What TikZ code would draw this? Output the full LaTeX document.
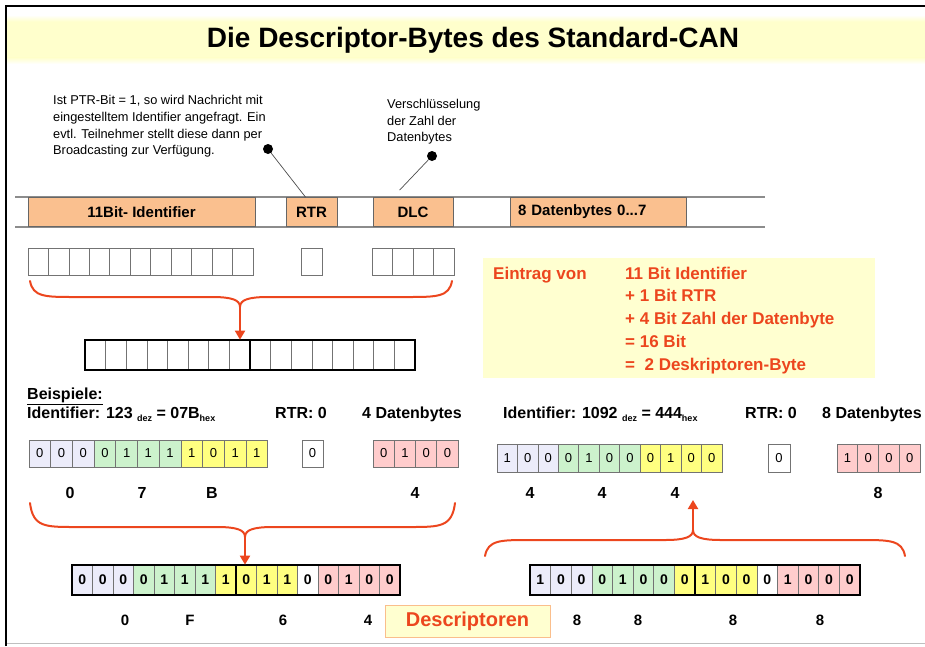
\documentclass[tikz,border=0pt]{standalone}
\usepackage{fontspec}
\setmainfont{Liberation Sans}
\usetikzlibrary{arrows.meta}

\definecolor{titleyel}{RGB}{255,255,204}
\definecolor{fieldorange}{RGB}{250,192,143}
\definecolor{accent}{RGB}{236,70,30}
\definecolor{lav}{RGB}{236,236,250}
\definecolor{grn}{RGB}{204,242,204}
\definecolor{yel}{RGB}{255,255,128}
\definecolor{pnk}{RGB}{255,204,204}
\definecolor{notebg}{RGB}{255,255,208}

\newcommand\fs[1]{\fontsize{#1}{#1}\selectfont}

% row of bit cells: name, left x, centre y, cell width, cell height, colour/value list
\newcommand\bitrow[6]{%
  \foreach \c/\v [count=\i] in {#6}{%
    \node[cell, minimum width=#4pt, minimum height=#5pt, fill=\c] (#1\i) at ({#2+(\i-0.5)*#4},#3) {\v};}}

% empty cells: name, left x, centre y, width, height, count
\newcommand\emptyrow[6]{%
  \foreach \i in {1,...,#6}{%
    \node[cell, minimum width=#4pt, minimum height=#5pt, fill=white] (#1\i) at ({#2+(\i-0.5)*#4},#3) {};}}

% curly brace: left x, right x, end y, bar y, middle x, tip y
\newcommand\curlybrace[6]{%
  \draw[brace] (#1,#3) .. controls ({#1+3},#4) and ({#1+15},#4) .. ({#1+45},#4)
    -- ({#5-28},#4) .. controls ({#5-8},#4) and (#5,{#4+0.3*(#6-#4)}) .. (#5,#6)
    .. controls (#5,{#4+0.3*(#6-#4)}) and ({#5+8},#4) .. ({#5+28},#4)
    -- ({#2-45},#4) .. controls ({#2-15},#4) and ({#2-3},#4) .. (#2,#3);}

\begin{document}
\begin{tikzpicture}[x=1pt,y=-1pt,
  cellfont/.style={font=\fs{13}},
  cell/.style={draw=black!55, line width=0.7pt, inner sep=0pt, cellfont},
  field/.style={draw=black!60, line width=0.8pt, fill=fieldorange, minimum height=29pt,
    inner sep=0pt, font=\bfseries\fs{15}},
  brace/.style={draw=accent, line width=2pt, line cap=round},
  bracearrow/.style={draw=accent, line width=2pt, -{Triangle[length=9pt,width=10pt]}},
  note/.style={font=\fs{12.8}, align=left, anchor=base west, inner sep=0pt},
  label/.style={font=\bfseries\fs{16}, inner sep=0pt},
  hexlabel/.style={font=\bfseries\fs{15}, inner sep=0pt},
  redtext/.style={text=accent, font=\bfseries\fs{17}, inner sep=0pt, anchor=base west, align=left},
  regframe/.style={draw=black, line width=2.2pt},
  dot/.style={circle, fill=black, inner sep=0pt, minimum size=10pt},
  pointer/.style={draw=black!70, line width=0.7pt}]

\useasboundingbox (0,0) rectangle (925,646);

% page frame
\draw[black!25, line width=1pt] (6,643) -- (925,643);
\draw[line width=2pt] (6,646) -- (6,6) -- (925,6);

% title band
\fill[titleyel] (7,21) rectangle (925,58);
\shade[top color=white, bottom color=titleyel] (7,15) rectangle (925,21.5);
\shade[top color=titleyel, bottom color=white] (7,57.5) rectangle (925,64);
\node[font=\bfseries\fs{28}] (title) at (473,40) {Die Descriptor-Bytes des Standard-CAN};

% notes above the frame (anchored at the baseline of their last line)
\node[note] (noteRTR) at (53,154.8) {Ist PTR-Bit = 1, so wird Nachricht mit\\[3.9pt]
  eingestelltem Identifier angefragt. Ein\\[3.9pt]
  evtl. Teilnehmer stellt diese dann per\\[3.9pt]
  Broadcasting zur Verfügung.};
\node[note] (noteDLC) at (387,141.7) {Verschlüsselung\\[3.7pt] der Zahl der\\[3.7pt] Datenbytes};
\node[dot] (dotA) at (268,149) {};
\node[dot] (dotB) at (432,156) {};

% CAN frame fields
\draw[black!45, line width=1.2pt] (15,197) -- (765,197);
\draw[black!45, line width=1.2pt] (15,227) -- (765,227);
\node[field, minimum width=227pt] (fID) at (141.5,212) {11Bit- Identifier};
\node[field, minimum width=51pt] (fRTR) at (311.5,212) {RTR};
\node[field, minimum width=80pt] (fDLC) at (413,212) {DLC};
\node[field, minimum width=176pt, text width=160pt, align=left] (fDATA) at (598,212) {8 Datenbytes 0...7};

\draw[pointer] (dotA) -- ([xshift=-6pt]fRTR.north);
\draw[pointer] (dotB) -- ([xshift=27pt,yshift=7pt]fDLC.north west);

% empty bit cells of identifier, RTR and DLC
\emptyrow{tid}{28}{261.5}{20.45}{27}{11}
\emptyrow{trtr}{301}{261.5}{21}{27}{1}
\emptyrow{tdlc}{372}{261.5}{20.5}{27}{4}

\curlybrace{30}{452}{281}{297}{240}{307}
\coordinate (tipA) at (240,307);

% two descriptor bytes
\emptyrow{cr}{85}{355}{20.625}{30}{16}
\draw[regframe] (cr1.north west) rectangle (cr16.south east);
\draw[regframe] (cr8.north east) -- (cr8.south east);
\draw[bracearrow] (tipA) -- (tipA |- cr1.north);

% explanation box
\node[fill=notebg, minimum width=392pt, minimum height=120pt, inner sep=0pt] (expl) at (679,318) {};
\node[redtext] (eintrag) at (493,279) {Eintrag von};
\node[redtext] (summe) at (625,370.2) {11 Bit Identifier\\[5.8pt]
  + 1 Bit RTR\\[5.8pt]
  + 4 Bit Zahl der Datenbyte\\[5.8pt]
  = 16 Bit\\[5.8pt]
  =\ \ 2 Deskriptoren-Byte};

% examples
\node[label, anchor=base west] (beisp) at (27,399) {\underline{Beispiele:}};
\node[label, anchor=base west] (idA) at (27,418) {Identifier: 123 \raisebox{-3pt}{\fs{9}dez} = 07B\raisebox{-3pt}{\fs{9}hex}};
\node[label, anchor=base west] (rtrA) at (275,418) {RTR: 0};
\node[label, anchor=base west] (dlcA) at (362,418) {4 Datenbytes};
\node[label, anchor=base west] (idB) at (503,418) {Identifier: 1092 \raisebox{-3pt}{\fs{9}dez} = 444\raisebox{-3pt}{\fs{9}hex}};
\node[label, anchor=base west] (rtrB) at (745,418) {RTR: 0};
\node[label, anchor=base west] (dlcB) at (822,418) {8 Datenbytes};

\bitrow{ea}{29}{453.5}{21.7}{27}{lav/0,lav/0,lav/0,grn/0,grn/1,grn/1,grn/1,yel/1,yel/0,yel/1,yel/1}
\bitrow{ear}{302}{453.5}{21}{27}{white/0}
\bitrow{ead}{373}{453.5}{21.25}{27}{pnk/0,pnk/1,pnk/0,pnk/0}
\node[label] (haA1) at (70,493) {0};
\node[label] (haA2) at (142,493) {7};
\node[label] (haA3) at (212,493) {B};
\node[label] (haA4) at (415,493) {4};

\bitrow{eb}{497}{458}{20.45}{28}{lav/1,lav/0,lav/0,grn/0,grn/1,grn/0,grn/0,yel/0,yel/1,yel/0,yel/0}
\bitrow{ebr}{768}{458}{22}{28}{white/0}
\bitrow{ebd}{837}{458}{20.75}{28}{pnk/1,pnk/0,pnk/0,pnk/0}
\node[label] (hbA1) at (530,493) {4};
\node[label] (hbA2) at (602,493) {4};
\node[label] (hbA3) at (675,493) {4};
\node[label] (hbA4) at (878,493) {8};

% braces between examples and descriptor bytes
\curlybrace{30}{455}{503}{527}{245}{537}
\coordinate (tipB) at (245,537);
\curlybrace{485}{905}{556}{540}{693}{530}
\coordinate (tipC) at (693,530);
\coordinate (upC) at (693,500);

% resulting descriptor bytes
\begin{scope}[cellfont/.style={font=\bfseries\fs{14}}]
\bitrow{da}{72}{580}{20.5}{30}{lav/0,lav/0,lav/0,grn/0,grn/1,grn/1,grn/1,yel/1,yel/0,yel/1,yel/1,white/0,pnk/0,pnk/1,pnk/0,pnk/0}
\bitrow{db}{530}{580}{20.625}{30}{lav/1,lav/0,lav/0,grn/0,grn/1,grn/0,grn/0,yel/0,yel/1,yel/0,yel/0,white/0,pnk/1,pnk/0,pnk/0,pnk/0}
\end{scope}
\draw[regframe] (da1.north west) rectangle (da16.south east);
\draw[regframe] (da8.north east) -- (da8.south east);
\draw[regframe] (db1.north west) rectangle (db16.south east);
\draw[regframe] (db8.north east) -- (db8.south east);
\draw[bracearrow] (tipB) -- (tipB |- da1.north);
\draw[bracearrow] (tipC) -- (upC);

\node[hexlabel] (hda1) at (125,620) {0};
\node[hexlabel] (hda2) at (190,620) {F};
\node[hexlabel] (hda3) at (283,620) {6};
\node[hexlabel] (hda4) at (368,620) {4};
\node[hexlabel] (hdb1) at (577,620) {8};
\node[hexlabel] (hdb2) at (638,620) {8};
\node[hexlabel] (hdb3) at (733,620) {8};
\node[hexlabel] (hdb4) at (820,620) {8};

\node[fill=notebg, draw={rgb,255:red,250;green,190;blue,140}, line width=1pt,
  minimum width=165pt, minimum height=32pt, inner sep=0pt, text=accent,
  font=\bfseries\fs{20}] (descr) at (467.5,621) {Descriptoren};
\end{tikzpicture}
\end{document}
